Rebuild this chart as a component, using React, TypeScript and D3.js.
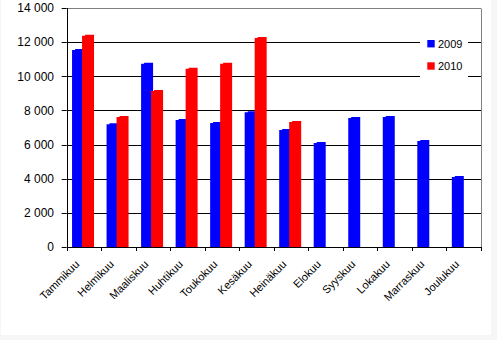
import React from "react";
import * as d3 from "d3";

const months = ["Tammikuu","Helmikuu","Maaliskuu","Huhtikuu","Toukokuu","Kesäkuu","Heinäkuu","Elokuu","Syyskuu","Lokakuu","Marraskuu","Joulukuu"];
const values2009 = [11600, 7250, 10800, 7500, 7320, 7950, 6910, 6150, 7620, 7670, 6270, 4160];
const values2010: (number | null)[] = [12430, 7670, 9200, 10500, 10800, 12300, 7380, null, null, null, null, null];
const yTicks = [0, 2000, 4000, 6000, 8000, 10000, 12000, 14000];
const seriesNames = ["2009", "2010"];
const seriesColors = ["#0000ff", "#ff0000"];

const W = 497, H = 340;
const L = 66.7, R = 481, T = 8, B = 247;

const fmt = (v: number) => d3.format(",")(v).replace(/,/g, " ");

export default function App() {
  const x = d3.scaleBand<string>().domain(months).range([L, R]).padding(0);
  const y = d3.scaleLinear().domain([0, 14000]).range([B, T]);
  const bw = x.bandwidth();
  const barW = 0.347 * bw;
  const offsets = [0.155 * bw, 0.155 * bw + 10];

  const barPath = (x0: number, v: number) => {
    const yt = y(v);
    const yb = y(0);
    const s = 3;
    return `M${x0},${yb}V${yt + 1}H${x0 + s}V${yt}H${x0 + barW}V${yb}Z`;
  };

  const series = [values2009, values2010];

  return (
    <div style={{ position: "fixed", left: 0, top: 0 }}>
      <svg width={W} height={H} style={{ display: "block", fontFamily: "'Liberation Sans', Arial, sans-serif" }}>
        <rect x={0} y={0} width={W} height={H} fill="#f6f6f6" />
        <rect x={1} y={0} width={490} height={335} fill="#ffffff" />
        {/* gridlines */}
        {yTicks.slice(1, -1).map((t) => (
          <line key={t} x1={L} x2={R} y1={Math.round(y(t)) + 0.5} y2={Math.round(y(t)) + 0.5} stroke="#000" strokeWidth={1} />
        ))}
        {/* plot border top/right */}
        <line x1={L} x2={R} y1={Math.round(y(14000)) + 0.5} y2={Math.round(y(14000)) + 0.5} stroke="#808080" />
        <line x1={Math.round(R) + 0.5} x2={Math.round(R) + 0.5} y1={Math.round(T) + 0.5} y2={Math.round(B) + 0.5} stroke="#808080" />
        {/* legend */}
        <rect x={420} y={28} width={48} height={62} fill="#fff" />
        {seriesNames.map((n, i) => (
          <g key={n}>
            <rect x={427.3} y={40 + i * 22.3} width={7.4} height={7.4} fill={seriesColors[i]} />
            <text x={438} y={47.5 + i * 22.3} fontSize={11} fill="#000">{n}</text>
          </g>
        ))}
        {/* bars */}
        {series.map((vals, si) =>
          vals.map((v, i) =>
            v == null ? null : (
              <path key={`${si}-${i}`} d={barPath((x(months[i]) as number) + offsets[si], v)} fill={seriesColors[si]} />
            )
          )
        )}
        {/* axes */}
        <line x1={Math.round(L) + 0.5} x2={Math.round(L) + 0.5} y1={Math.round(T)} y2={Math.round(B) + 0.5} stroke="#000" />
        <line x1={Math.round(L)} x2={Math.round(R) + 1} y1={Math.round(B) + 0.5} y2={Math.round(B) + 0.5} stroke="#000" />
        {yTicks.map((t) => (
          <g key={t}>
            <line x1={L - 5} x2={L} y1={Math.round(y(t)) + 0.5} y2={Math.round(y(t)) + 0.5} stroke="#000" />
            <text x={54} y={y(t) + 4.3} fontSize={12} textAnchor="end" fill="#000">{fmt(t)}</text>
          </g>
        ))}
        {months.concat(["__end"]).map((m, i) => {
          const xx = Math.round(L + i * bw) + 0.5;
          return <line key={m} x1={xx} x2={xx} y1={B} y2={B + 4} stroke="#000" />;
        })}
        {months.map((m) => {
          const cx = (x(m) as number) + bw / 2 - 4;
          const cy = 265;
          return (
            <text key={m} x={cx} y={cy} fontSize={11} textAnchor="end" transform={`rotate(-45 ${cx} ${cy})`} fill="#000">
              {m}
            </text>
          );
        })}
      </svg>
    </div>
  );
}
